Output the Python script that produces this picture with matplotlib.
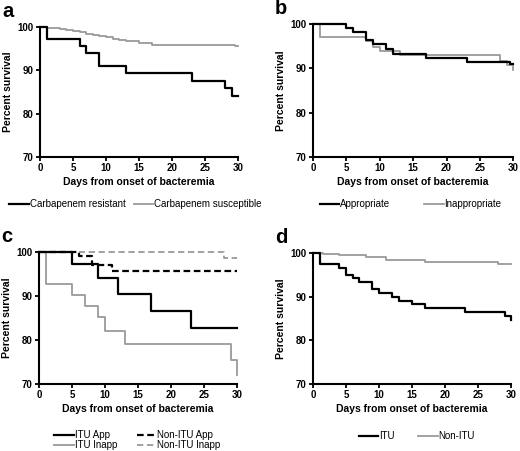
import matplotlib
matplotlib.use("Agg")
import matplotlib.pyplot as plt
from matplotlib.lines import Line2D

plt.rcParams['font.family'] = ['Liberation Sans', 'DejaVu Sans']

# panel a
a_res_t = [0, 1, 6, 7, 9, 13, 23, 28, 29, 30]
a_res_s = [100, 97.2, 95.6, 94.1, 91.0, 89.3, 87.6, 85.9, 84.1, 84.1]
a_sus_t = [0, 1, 3, 4, 5, 6, 7, 8, 9, 10, 11, 12, 13, 15, 17, 29.5, 30]
a_sus_s = [100, 99.85, 99.6, 99.4, 99.1, 98.8, 98.5, 98.2, 97.9, 97.6, 97.3, 97.0, 96.8, 96.4, 95.9, 95.6, 95.6]

# panel b
b_app_t = [0, 5, 6, 8, 9, 11, 12, 17, 23, 29.5, 30]
b_app_s = [100, 99.1, 98.2, 96.3, 95.4, 94.4, 93.3, 92.3, 91.3, 90.9, 90.9]
b_inapp_t = [0, 1, 8, 9, 10, 13, 28, 29, 30]
b_inapp_s = [100, 97.1, 96.1, 94.9, 93.9, 92.9, 91.7, 90.8, 89.5]

# panel c
c_itu_app_t = [0, 5, 9, 12, 17, 23, 30]
c_itu_app_s = [100, 97.2, 94.1, 90.4, 86.6, 82.8, 82.8]
c_itu_inapp_t = [0, 1, 5, 7, 9, 10, 13, 29, 30]
c_itu_inapp_s = [100, 92.8, 90.2, 87.7, 85.2, 82.1, 79.1, 75.5, 72.1]
c_non_app_t = [0, 6, 8, 11, 30]
c_non_app_s = [100, 99.1, 97.0, 95.8, 95.8]
c_non_inapp_t = [0, 28, 30]
c_non_inapp_s = [100, 98.6, 98.6]

# panel d
d_itu_t = [0, 1, 4, 5, 6, 7, 9, 10, 12, 13, 15, 17, 23, 29, 30]
d_itu_s = [100, 97.4, 96.6, 95.0, 94.2, 93.3, 91.8, 90.8, 89.9, 89.1, 88.2, 87.3, 86.4, 85.6, 84.6]
d_non_t = [0, 1.5, 4, 8, 11, 17, 28, 30]
d_non_s = [100, 99.8, 99.5, 99.0, 98.4, 97.9, 97.4, 97.4]

GRAY = '#9a9a9a'

fig = plt.figure(figsize=(5.2, 4.51), dpi=100)


def setup(ax, letter):
    ax.set_xlim(0, 30)
    ax.set_ylim(70, 100)
    ax.set_xticks([0, 5, 10, 15, 20, 25, 30])
    ax.set_yticks([70, 80, 90, 100])
    for s in ['top', 'right']:
        ax.spines[s].set_visible(False)
    for s in ['left', 'bottom']:
        ax.spines[s].set_linewidth(1.5)
    ax.tick_params(width=1.3, length=3, labelsize=7, pad=1.5)
    for lab in ax.get_xticklabels() + ax.get_yticklabels():
        lab.set_fontweight('bold')
    ax.set_xlabel('Days from onset of bacteremia', fontsize=7.5, fontweight='bold', labelpad=3)
    ax.set_ylabel('Percent survival', fontsize=7.5, fontweight='bold', labelpad=3)
    # panel letter, baseline ~10 px above the plot area
    ax.text(-0.19, 1.0 + 10 / (ax.get_position().height * 451), letter,
            transform=ax.transAxes, fontsize=14.5, fontweight='bold',
            va='baseline', ha='left')


def km(ax, t, s, **kw):
    ax.step(t, s, where='post', clip_on=False, **kw)


# a
ax = fig.add_axes([0.077, 0.652, 0.381, 0.288])
km(ax, a_sus_t, a_sus_s, color=GRAY, lw=1.3)
km(ax, a_res_t, a_res_s, color='black', lw=1.6)
setup(ax, 'a')
h = [Line2D([], [], color='black', lw=1.6), Line2D([], [], color=GRAY, lw=1.3)]
fig.legend(h, ['Carbapenem resistant', 'Carbapenem susceptible'], loc='center left',
           bbox_to_anchor=(0.01, 1 - 204 / 451), ncol=2, frameon=False, fontsize=7,
           handlelength=2.0, handletextpad=0.1, columnspacing=0.9, borderaxespad=0)

# b
ax = fig.add_axes([0.602, 0.652, 0.385, 0.295])
km(ax, b_inapp_t, b_inapp_s, color=GRAY, lw=1.3)
km(ax, b_app_t, b_app_s, color='black', lw=1.6)
setup(ax, 'b')
fig.legend(h, ['Appropriate', 'Inappropriate'], loc='center left',
           bbox_to_anchor=(0.607, 1 - 204 / 451), ncol=2, frameon=False, fontsize=7,
           handlelength=2.0, handletextpad=0.1, columnspacing=3.5, borderaxespad=0)

# c
ax = fig.add_axes([0.075, 0.149, 0.381, 0.292])
km(ax, c_non_inapp_t, c_non_inapp_s, color=GRAY, lw=1.3, ls=(0, (3.5, 2)))
km(ax, c_itu_inapp_t, c_itu_inapp_s, color=GRAY, lw=1.3)
km(ax, c_non_app_t, c_non_app_s, color='black', lw=1.6, ls=(0, (3, 1.6)))
km(ax, c_itu_app_t, c_itu_app_s, color='black', lw=1.6)
setup(ax, 'c')
h4 = [Line2D([], [], color='black', lw=1.6), Line2D([], [], color=GRAY, lw=1.3),
      Line2D([], [], color='black', lw=1.6, ls=(0, (3, 1.6))),
      Line2D([], [], color=GRAY, lw=1.3, ls=(0, (3.5, 2)))]
fig.legend(h4, ['ITU App', 'ITU Inapp', 'Non-ITU App', 'Non-ITU Inapp'], loc='center left',
           bbox_to_anchor=(0.097, 1 - 440 / 451), ncol=2, frameon=False, fontsize=7,
           handlelength=2.0, handletextpad=0.1, columnspacing=2.0, borderaxespad=0,
           labelspacing=0.0)

# d
ax = fig.add_axes([0.602, 0.149, 0.381, 0.290])
km(ax, d_non_t, d_non_s, color=GRAY, lw=1.3)
km(ax, d_itu_t, d_itu_s, color='black', lw=1.6)
setup(ax, 'd')
fig.legend(h, ['ITU', 'Non-ITU'], loc='center left',
           bbox_to_anchor=(0.683, 1 - 436 / 451), ncol=2, frameon=False, fontsize=7,
           handlelength=2.0, handletextpad=0.1, columnspacing=2.4, borderaxespad=0)

fig.savefig('out.png', dpi=100)
